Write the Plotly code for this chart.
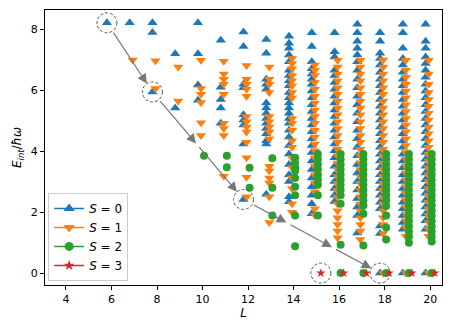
import numpy as np
import plotly.graph_objects as go

# interaction energies, per angular momentum L, for each total spin S
e_s0 = {
    6: [8.22],
    7: [8.22],
    8: [8.22, 7.9, 5.95],
    9: [7.2, 5.42],
    10: [8.22, 7.2, 6.18, 5.68],
    11: [7.65, 6.1, 5.7, 5.42, 4.92],
    12: [7.92, 7.44, 6.2, 6.09, 5.2, 5.03, 4.86, 4.24, 2.42],
    13: [7.67, 7.22, 6.37, 6.2, 6.04, 5.59, 5.42, 5.25, 5.08, 4.92, 4.75, 4.58, 4.35, 4.24, 2.59],
    14: [7.78, 7.55, 7.38, 7.16, 6.94, 6.66, 6.49, 6.32, 6.15, 5.93, 5.76, 5.59, 5.42, 5.25,
         5.08, 4.92, 4.69, 4.47, 4.19, 3.91, 3.57, 3.23, 3.01, 2.51, 2.34],
    15: [7.89, 7.44, 6.94, 6.71, 6.54, 6.37, 6.2, 5.98, 5.76, 5.53, 5.31, 5.08, 4.86, 4.64,
         4.41, 4.19, 3.96, 3.68, 3.4, 3.12, 2.84, 2.56, 2.28, 1.95],
    16: [7.89, 7.27, 7.1, 6.66, 6.49, 6.26, 6.04, 5.81, 5.59, 5.36, 5.14, 4.92, 4.69, 4.47,
         4.24, 4.02, 3.79, 3.51, 3.23, 3.01, 2.78, 2.56, 2.35],
    17: [8.17, 7.89, 7.61, 7.38, 7.16, 6.94, 6.66, 6.37, 6.09, 5.81, 5.53, 5.25, 4.97, 4.69,
         4.41, 4.13, 3.85, 3.57, 3.29, 3.01, 2.73, 2.45, 2.17, 1.89, 1.32],
    18: [7.89, 7.61, 7.22, 7.05, 6.83, 6.6, 6.37, 6.15, 5.93, 5.7, 5.48, 5.25, 5.03, 4.8,
         4.58, 4.35, 4.13, 3.9, 3.68, 3.46, 3.23, 3.01, 2.78, 2.56, 2.33, 2.11, 1.55, 1.3, 0.0],
    19: [8.17, 7.89, 7.38, 7.05, 6.83, 6.6, 6.37, 6.15, 5.93, 5.7, 5.48, 5.25, 5.03, 4.8,
         4.58, 4.35, 4.13, 3.9, 3.68, 3.46, 3.23, 3.01, 2.78, 2.56, 2.33, 2.11, 1.89, 1.66,
         1.44, 0.0],
    20: [8.17, 7.61, 7.38, 7.1, 6.88, 6.66, 6.43, 6.2, 5.98, 5.76, 5.53, 5.31, 5.08, 4.86,
         4.64, 4.41, 4.19, 3.96, 3.74, 3.51, 3.29, 3.07, 2.84, 2.62, 2.39, 2.17, 1.94, 1.72,
         1.44, 0.0],
}
e_s1 = {
    7: [7.0],
    8: [6.97, 6.06],
    9: [6.77, 5.65],
    10: [6.99, 6.06, 5.87, 5.6, 4.94, 4.52],
    11: [6.96, 6.54, 6.37, 6.2, 5.87, 4.92, 4.75, 4.52, 3.18],
    12: [6.82, 6.37, 6.2, 6.04, 5.81, 5.14, 4.97, 4.8, 4.63, 4.3, 3.79, 3.15, 2.51],
    13: [6.77, 6.37, 6.2, 5.93, 5.14, 4.97, 4.8, 4.63, 4.41, 3.51, 3.35, 3.12, 2.96, 2.51, 1.66],
    14: [7.05, 6.88, 6.71, 6.49, 6.32, 6.15, 5.93, 5.76, 5.08, 4.92, 4.69, 4.35, 4.13, 3.79,
         3.46, 3.12, 2.78, 2.28, 2.0],
    15: [6.83, 6.66, 6.49, 6.26, 6.04, 5.81, 5.59, 5.36, 5.14, 4.92, 4.69, 4.47, 4.24, 4.02,
         3.79, 3.51, 3.23, 2.96, 2.67, 2.11, 1.9],
    16: [6.99, 6.77, 6.54, 6.32, 6.09, 5.87, 5.64, 5.42, 5.2, 4.97, 4.75, 4.52, 4.3, 4.07,
         3.85, 3.62, 3.4, 3.17, 2.95, 2.72, 2.5, 2.27, 2.05, 1.82, 1.6, 1.38, 1.16],
    17: [6.99, 6.77, 6.54, 6.32, 6.09, 5.87, 5.64, 5.42, 5.2, 4.97, 4.75, 4.52, 4.3, 4.07,
         3.85, 3.62, 3.4, 3.17, 2.95, 2.72, 2.5, 2.27, 2.05, 1.82, 1.6, 1.38, 1.1],
    18: [7.0, 6.77, 6.54, 6.32, 6.09, 5.87, 5.64, 5.42, 5.2, 4.97, 4.75, 4.52, 4.3, 4.07,
         3.85, 3.62, 3.4, 3.17, 2.95, 2.72, 2.5, 2.27, 2.05, 1.82, 1.6, 1.3, 0.0],
    19: [6.99, 6.66, 6.43, 6.2, 5.98, 5.76, 5.53, 5.31, 5.08, 4.86, 4.64, 4.41, 4.19, 3.96,
         3.74, 3.51, 3.29, 3.07, 2.84, 2.62, 2.39, 2.17, 1.94, 1.72, 1.5, 1.21, 0.0],
    20: [6.99, 6.54, 6.2, 5.93, 5.7, 5.48, 5.25, 5.03, 4.8, 4.58, 4.35, 4.13, 3.9, 3.68,
         3.46, 3.23, 3.01, 2.78, 2.56, 2.33, 2.11, 1.89, 1.66, 1.44, 1.21, 0.0],
}
e_s2 = {
    10: [3.85],
    11: [3.85, 3.48],
    12: [3.46, 2.8],
    13: [3.77, 2.8, 1.89],
    14: [3.79, 3.62, 3.46, 3.35, 3.12, 2.84, 2.56, 1.89, 0.88],
    15: [3.91, 3.74, 3.57, 3.4, 3.23, 3.07, 2.9, 2.56, 1.89],
    16: [3.91, 3.74, 3.57, 3.4, 3.23, 3.07, 2.9, 2.73, 2.56, 2.28, 0.93, 0.0],
    17: [3.91, 3.74, 3.57, 3.4, 3.23, 3.07, 2.9, 2.73, 2.56, 2.39, 2.22, 1.95, 0.91, 0.0],
    18: [3.91, 3.74, 3.57, 3.4, 3.23, 3.07, 2.9, 2.73, 2.56, 2.39, 2.2, 1.89, 1.5, 1.1, 0.0],
    19: [3.91, 3.74, 3.57, 3.4, 3.23, 3.07, 2.9, 2.73, 2.56, 2.39, 2.22, 2.05, 1.88, 1.71,
         1.54, 1.37, 1.2, 1.0, 0.0],
    20: [3.91, 3.74, 3.57, 3.4, 3.23, 3.07, 2.9, 2.73, 2.56, 2.39, 2.22, 2.05, 1.88, 1.71,
         1.54, 1.37, 1.2, 1.04, 0.0],
}
e_s3 = {
    15: [0.0],
    16: [0.0],
    17: [0.0],
    18: [0.0],
    19: [0.0],
    20: [0.0],
}

spins = [0, 1, 2, 3]
colors = ['#1f77b4', '#ff7f0e', '#2ca02c', '#d62728']
symbols = ['triangle-up', 'triangle-down', 'circle', 'star']
sizes = [9, 9, 8, 7]
offsets = np.linspace(-0.2, 0.2, 4)   # small shift so the spins don't sit on top of each other

# circled states (S, L, E) and the yrast path drawn with arrows
marked = [(0, 6, 8.22), (0, 8, 5.95), (0, 12, 2.42), (0, 18, 0.0), (3, 15, 0.0)]
path_L = [6, 8, 12, 18]
path_E = [8.22, 5.95, 2.42, 0.0]

fig = go.Figure()

for s, data in zip(spins, [e_s0, e_s1, e_s2, e_s3]):
    xs = [L + offsets[s] for L, es in data.items() for e in es]
    ys = [e for L, es in data.items() for e in es]
    fig.add_trace(go.Scatter(
        x=xs, y=ys, mode='markers', showlegend=False,
        marker=dict(symbol=symbols[s], size=sizes[s], color=colors[s],
                    line=dict(width=0))
    ))

# legend entries in matplotlib style (line + marker)
for s in spins:
    fig.add_trace(go.Scatter(
        x=[None], y=[None], mode='lines+markers', name=f'<i>S</i> = {s}',
        line=dict(color=colors[s], width=1.5),
        marker=dict(symbol=symbols[s], size=sizes[s] + 1, color=colors[s])
    ))

# dashed circles around the marked states
for s, L, e in marked:
    fig.add_shape(type='circle', xref='x', yref='y',
                  xsizemode='pixel', ysizemode='pixel',
                  xanchor=L + offsets[s], yanchor=e,
                  x0=-10, x1=10, y0=-10, y1=10,
                  line=dict(color='#555555', width=1, dash='3px,2px'))

# arrows along the path, one head every two units of L
nodes_L = np.arange(path_L[0], path_L[-1] + 1, 2)
nodes_E = np.interp(nodes_L, path_L, path_E)
for i in range(len(nodes_L) - 1):
    start_circle = nodes_L[i] in path_L
    end_circle = nodes_L[i + 1] in path_L
    fig.add_annotation(
        x=nodes_L[i + 1] + offsets[0], y=nodes_E[i + 1],
        ax=nodes_L[i] + offsets[0], ay=nodes_E[i],
        xref='x', yref='y', axref='x', ayref='y',
        text='', showarrow=True,
        arrowhead=2, arrowsize=1.6, arrowwidth=1.2, arrowcolor='#777777',
        standoff=10 if end_circle else 3,
        startstandoff=10 if start_circle else 0,
    )

axis_style = dict(showline=True, linecolor='black', linewidth=1, mirror=True,
                  ticks='outside', ticklen=4, tickcolor='black', showgrid=False,
                  zeroline=False, tickfont=dict(size=11, color='black'))

fig.update_xaxes(range=[3.08, 20.52], tickvals=list(range(4, 21, 2)),
                 title=dict(text='<i>L</i>', font=dict(size=12, color='black'), standoff=3),
                 **axis_style)
fig.update_yaxes(range=[-0.39, 8.64], tickvals=[0, 2, 4, 6, 8],
                 title=dict(text='<i>E</i><sub><i>int</i></sub>/<i>ħω</i>',
                            font=dict(size=12, color='black'), standoff=6),
                 **axis_style)

# the page body adds an 8px margin, so the figure is 8px smaller and the margins shifted
fig.update_layout(
    width=444, height=320,
    margin=dict(l=37, r=10, t=2, b=43),
    paper_bgcolor='white', plot_bgcolor='white',
    font=dict(family='DejaVu Sans', size=11, color='black'),
    legend=dict(x=0.008, y=0.015, xanchor='left', yanchor='bottom',
                bgcolor='rgba(255,255,255,0.8)', bordercolor='#cccccc', borderwidth=1,
                font=dict(size=12), itemwidth=30, tracegroupgap=0),
)

fig.write_html("out.html")
